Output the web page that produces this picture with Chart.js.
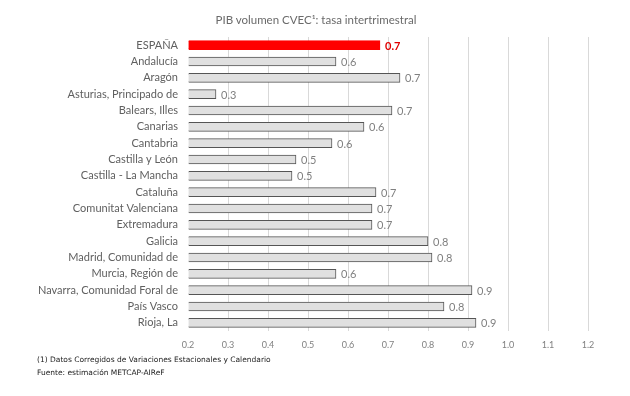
<!DOCTYPE html>
<html>
<head>
<meta charset="utf-8">
<script src="https://cdn.jsdelivr.net/npm/chart.js@4"></script>
<style>
  html, body { margin: 0; padding: 0; background: #fff; }
  #wrap { position: relative; width: 630px; height: 396px; }
  #title { position: absolute; left: 116px; width: 400px; top: 13px; text-align: center; font-family: Lato, "Open Sans", sans-serif; font-size: 11.5px; color: #6a6a6a; }
  #notes { position: absolute; left: 37px; top: 353px; font-family: "DejaVu Sans", Verdana, sans-serif; font-size: 7.5px; line-height: 13px; color: #222; }
</style>
</head>
<body>
<div id="wrap">
  <canvas id="chart" width="630" height="396"></canvas>
  <div id="title">PIB volumen CVEC¹: tasa intertrimestral</div>
  <div id="notes">(1) Datos Corregidos de Variaciones Estacionales y Calendario<br>Fuente: estimación METCAP-AIReF</div>
</div>
<script>
const regions = ['ESPAÑA', 'Andalucía', 'Aragón', 'Asturias, Principado de', 'Balears, Illes', 'Canarias',
  'Cantabria', 'Castilla y León', 'Castilla - La Mancha', 'Cataluña', 'Comunitat Valenciana', 'Extremadura',
  'Galicia', 'Madrid, Comunidad de', 'Murcia, Región de', 'Navarra, Comunidad Foral de', 'País Vasco', 'Rioja, La'];
const growth = [0.68, 0.57, 0.73, 0.27, 0.71, 0.64, 0.56, 0.47, 0.46, 0.67, 0.66, 0.66, 0.80, 0.81, 0.57, 0.91, 0.84, 0.92];
const xTicks = [0.2, 0.3, 0.4, 0.5, 0.6, 0.7, 0.8, 0.9, 1.0, 1.1, 1.2];

const font = 'Lato, "Open Sans", sans-serif';

// value labels at the end of each bar
const valueLabels = {
  id: 'valueLabels',
  afterDatasetsDraw(chart) {
    const ctx = chart.ctx;
    const meta = chart.getDatasetMeta(0);
    ctx.save();
    ctx.textBaseline = 'middle';
    ctx.textAlign = 'left';
    meta.data.forEach((bar, i) => {
      const first = i === 0;
      ctx.font = (first ? 'bold ' : '') + '11px ' + font;
      ctx.fillStyle = first ? '#e00000' : '#808080';
      ctx.fillText(growth[i].toFixed(1), bar.x + 5, bar.y + 1);
    });
    ctx.restore();
  }
};

new Chart(document.getElementById('chart'), {
  type: 'bar',
  data: {
    labels: regions,
    datasets: [{
      data: growth,
      base: 0.2,
      backgroundColor: regions.map((r, i) => i === 0 ? '#ff0000' : '#e0e0e0'),
      borderColor: regions.map((r, i) => i === 0 ? '#ff0000' : '#555555'),
      borderWidth: 1,
      borderSkipped: 'left',
      barThickness: 9
    }]
  },
  plugins: [valueLabels],
  options: {
    indexAxis: 'y',
    responsive: false,
    animation: false,
    layout: { padding: { left: 0, right: 42, top: 37, bottom: 41 } },
    plugins: {
      legend: { display: false },
      tooltip: { enabled: false },
      title: { display: false }
    },
    scales: {
      x: {
        min: 0.2,
        max: 1.2,
        afterBuildTicks: s => { s.ticks = xTicks.map(v => ({ value: v })); },
        afterFit: s => { s.height = 24; },
        border: { display: false },
        grid: {
          color: c => c.tick && c.tick.value === 0.2 ? 'rgba(0,0,0,0)' : '#d9d9d9',
          drawTicks: false
        },
        ticks: {
          padding: 9,
          color: '#808080',
          font: { family: font, size: 9 },
          callback: v => v.toFixed(1)
        }
      },
      y: {
        afterFit: s => { s.width = 188; },
        border: { display: false },
        grid: { display: false, drawTicks: false },
        ticks: {
          autoSkip: false,
          padding: 10,
          color: '#606060',
          font: { family: font, size: 11 }
        }
      }
    }
  }
});
</script>
</body>
</html>
